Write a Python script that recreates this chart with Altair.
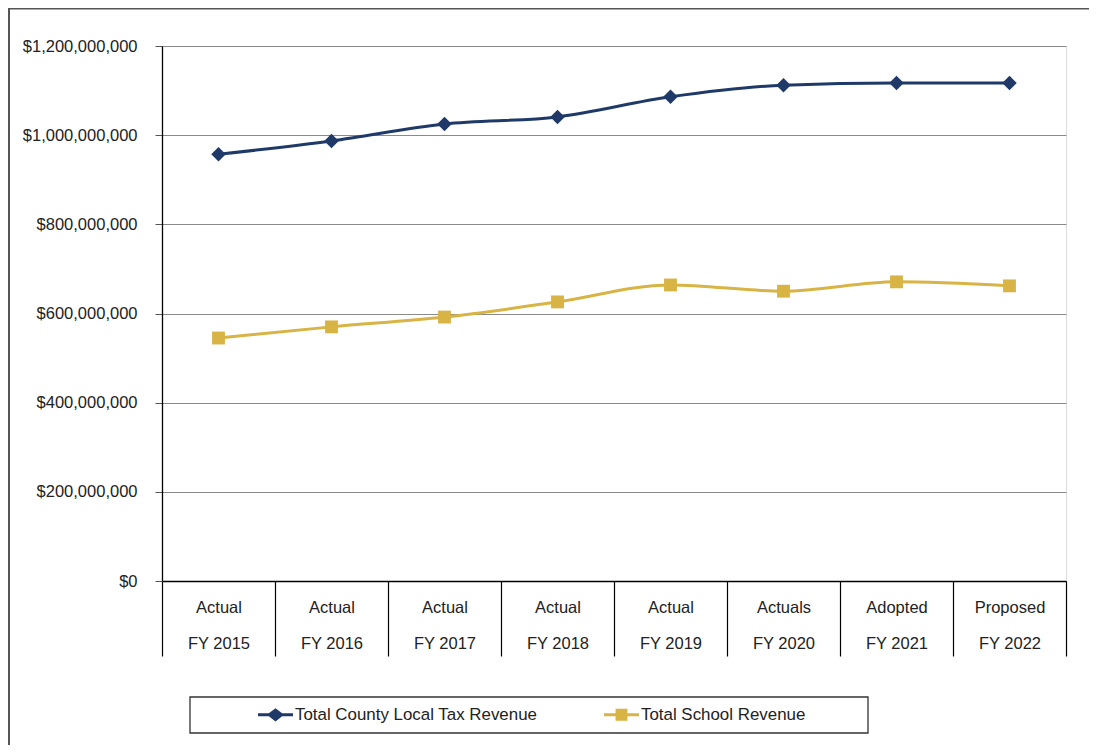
import altair as alt
import pandas as pd

status = ["Actual", "Actual", "Actual", "Actual", "Actual", "Actuals", "Adopted", "Proposed"]
years = ["FY 2015", "FY 2016", "FY 2017", "FY 2018", "FY 2019", "FY 2020", "FY 2021", "FY 2022"]
county = [957e6, 987e6, 1025e6, 1041e6, 1086e6, 1112e6, 1117e6, 1117e6]
school = [545e6, 570e6, 592e6, 626e6, 664e6, 650e6, 671e6, 662e6]
series = ["Total County Local Tax Revenue", "Total School Revenue"]
colors = ["#1F3A68", "#D8B444"]

cats = [f"{s}|{y}" for s, y in zip(status, years)]
rows = []
for c, v in zip(cats, county):
    rows.append({"cat": c, "series": series[0], "value": v})
for c, v in zip(cats, school):
    rows.append({"cat": c, "series": series[1], "value": v})
df = pd.DataFrame(rows)

FONT = "'Liberation Sans', Arial, sans-serif"
FS = 16.5
W, H = 904, 535
PAD_L, PAD_T, PAD_R, PAD_B = 154, 38, 23, 164

xscale = alt.Scale(type="band", domain=cats, paddingInner=0, paddingOuter=0)
yscale = alt.Scale(domain=[0, 1.2e9], nice=False)
cscale = alt.Scale(domain=series, range=colors)

x_enc = alt.X("cat:N", scale=xscale, sort=cats, title=None,
              axis=alt.Axis(labelExpr="split(datum.label, '|')", labelAngle=0,
                            labelFont=FONT, labelFontSize=FS, labelColor="#222",
                            labelLineHeight=36, labelBaseline="middle",
                            tickBand="extent", tickSize=75, tickColor="#000",
                            tickWidth=1.2, labelPadding=-49,
                            domainColor="#000", domainWidth=1.3, grid=False))
y_enc = alt.Y("value:Q", scale=yscale, title=None,
              axis=alt.Axis(values=[0, 2e8, 4e8, 6e8, 8e8, 1e9, 1.2e9], format="$,.0f",
                            labelFont=FONT, labelFontSize=FS, labelColor="#222",
                            labelPadding=18, tickSize=7, tickColor="#555",
                            domainColor="#000", domainWidth=1.3,
                            grid=True, gridColor="#8a8a8a", gridWidth=1))

base = alt.Chart(df)

lines = base.mark_line(strokeWidth=3, interpolate="monotone").encode(
    x=x_enc, y=y_enc,
    color=alt.Color("series:N", scale=cscale, legend=None),
    detail="series:N",
)

pts_county = base.transform_filter(alt.datum.series == series[0]).mark_point(
    filled=True, opacity=1, shape="diamond", size=210
).encode(
    x=alt.X("cat:N", scale=xscale, sort=cats),
    y=alt.Y("value:Q", scale=yscale),
    color=alt.Color("series:N", scale=cscale, legend=None),
)
pts_school = base.transform_filter(alt.datum.series == series[1]).mark_point(
    filled=True, opacity=1, shape="square", size=165
).encode(
    x=alt.X("cat:N", scale=xscale, sort=cats),
    y=alt.Y("value:Q", scale=yscale),
    color=alt.Color("series:N", scale=cscale, legend=None),
)

diamond_path = ("M-1,-0.086L-0.38,-0.086L0,-0.38L0.38,-0.086L1,-0.086L1,0.086"
                "L0.38,0.086L0,0.38L-0.38,0.086L-1,0.086Z")
square_path = ("M-1,-0.086L-0.34,-0.086L-0.34,-0.34L0.34,-0.34L0.34,-0.086L1,-0.086L1,0.086"
               "L0.34,0.086L0.34,0.34L-0.34,0.34L-0.34,0.086L-1,0.086Z")

legend_box = alt.Chart(alt.Data(values=[{}])).mark_rect(
    fill="white", stroke="#333", strokeWidth=1.3
).encode(x=alt.value(28), x2=alt.value(706), y=alt.value(651), y2=alt.value(687))

leg = alt.Legend(title=None, orient="none", legendX=96, legendY=651,
                 direction="horizontal", labelFont=FONT,
                 labelFontSize=16.9, labelColor="#222", labelOffset=2,
                 columnPadding=66, symbolSize=1225,
                 symbolStrokeWidth=0, padding=0, labelLimit=400)

legend_layer = base.mark_point(filled=True, clip=True, size=1225, strokeWidth=0, opacity=1).encode(
    x=alt.value(-2000), y=alt.value(-2000),
    fill=alt.Fill("series:N", scale=alt.Scale(domain=series, range=colors), legend=leg),
    shape=alt.Shape("series:N", scale=alt.Scale(domain=series, range=[diamond_path, square_path]),
                    legend=leg),
)

frame_left = alt.Chart(alt.Data(values=[{}])).mark_rule(color="#555", strokeWidth=2).encode(
    x=alt.value(-153), y=alt.value(-38), y2=alt.value(H + PAD_B))
frame_top = alt.Chart(alt.Data(values=[{}])).mark_rule(color="#555", strokeWidth=2).encode(
    y=alt.value(-37.5), x=alt.value(-154), x2=alt.value(W + PAD_R))

chart = alt.layer(
    lines, pts_county, pts_school, legend_box, legend_layer, frame_left, frame_top
).resolve_scale(fill="independent", shape="independent").properties(
    width=W, height=H,
    autosize=alt.AutoSizeParams(type="none"),
    padding={"left": PAD_L, "top": PAD_T, "right": PAD_R, "bottom": PAD_B},
).configure_view(stroke="#8a8a8a", strokeWidth=1).configure(background="white")

chart.save("out.html", embed_options={"renderer": "svg", "actions": False})
